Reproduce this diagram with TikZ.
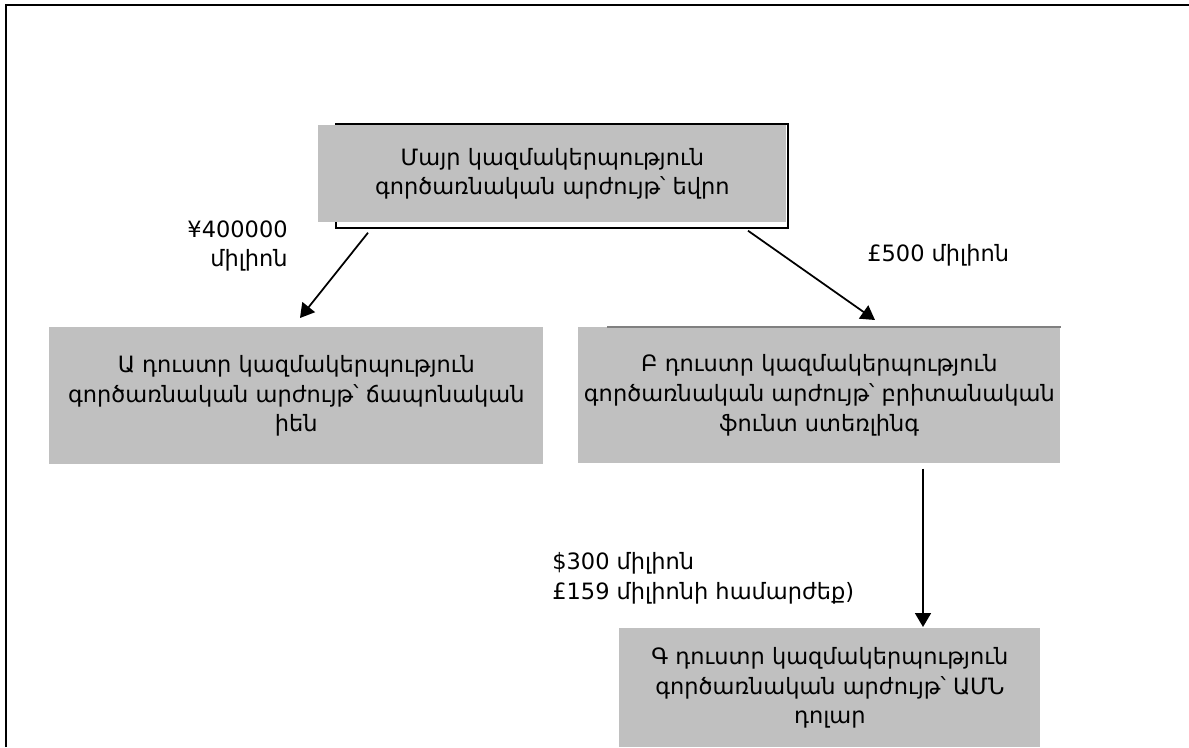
\documentclass[tikz,border=0pt]{standalone}
\usepackage{fontspec}
\setmainfont{DejaVu Sans}
\usetikzlibrary{arrows.meta}

\begin{document}
\begin{tikzpicture}[x=0.02cm, y=-0.02cm,
	every node/.style={font=\fontsize{12.8}{17}\selectfont},
	>={Triangle[length=2.8mm, width=3.2mm]},
	box/.style={fill={rgb,255:red,192;green,192;blue,192}, inner sep=0pt, align=center, anchor=north west},
	lbl/.style={inner sep=0pt},
	arr/.style={->, line width=1pt}]
	\useasboundingbox (0,0) rectangle (1189,747);
	% frame
	\draw[line width=1.2pt] (6,747) -- (6,5) -- (1189,5);
	% parent company
	\draw[line width=0.9pt] (336,124) rectangle (788,228);
	\node[box, minimum width=468*0.02cm, minimum height=97*0.02cm] (parent) at (318,125)
		{\raisebox{-1.2ex}{\parbox{8cm}{\centering Մայր կազմակերպություն\\գործառնական արժույթ՝ եվրո}}};
	% subsidiaries
	\node[box, minimum width=494*0.02cm, minimum height=137*0.02cm] (childA) at (49,327)
		{Ա դուստր կազմակերպություն\\գործառնական արժույթ՝ ճապոնական\\իեն};
	\node[box, minimum width=482*0.02cm, minimum height=136*0.02cm] (childB) at (578,327)
		{Բ դուստր կազմակերպություն\\գործառնական արժույթ՝ բրիտանական\\ֆունտ ստեռլինգ};
	\draw[gray, line width=0.6pt] ([xshift=29*0.02cm]childB.north west) -- (childB.north east);
	\node[box, minimum width=421*0.02cm, minimum height=119*0.02cm] (childC) at (619,628)
		{Գ դուստր կազմակերպություն\\գործառնական արժույթ՝ ԱՄՆ\\դոլար};
	% amounts
	\node[lbl, align=right, anchor=north east] (amtA) at (288,220) {¥400000\\միլիոն};
	\node[lbl, anchor=west] (amtB) at (867,255) {£500 միլիոն};
	\node[lbl, align=left, anchor=north west] (amtC) at (552,552) {\$300 միլիոն\\£159 միլիոնի համարժեք)};
	% arrows
	\draw[arr] ([shift={(50,10)}]parent.south west) -- ([shift={(251,-9)}]childA.north west);
	\draw[arr] ([shift={(430,8)}]parent.south west) -- ([shift={(297,-7)}]childB.north west);
	\draw[arr] ([shift={(345,5)}]childB.south west) -- ([shift={(304,-1)}]childC.north west);
\end{tikzpicture}
\end{document}
